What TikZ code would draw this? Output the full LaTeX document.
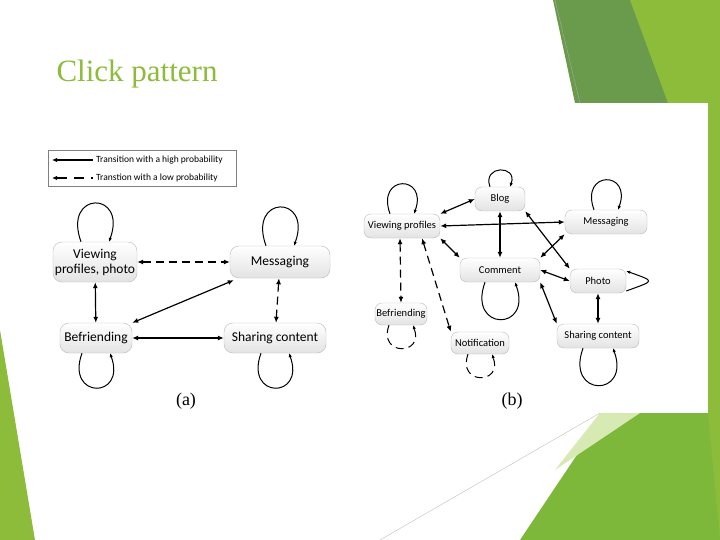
\documentclass[tikz,border=0pt]{standalone}
\usepackage{fontspec}
\setmainfont{Liberation Serif}
\newfontfamily\calfam{Carlito}
\usetikzlibrary{arrows.meta}
\definecolor{tgreen}{HTML}{8DBB3A}
\definecolor{dgreen}{HTML}{6A9A4C}
\definecolor{lgreen}{HTML}{7DB83A}
\definecolor{pale}{HTML}{D8EAB4}
\tikzset{
 st/.style={draw=gray!55,rounded corners=9pt,top color=white,bottom color=gray!22,font=\calfam,inner sep=0pt},
 sa/.style={st,font=\calfam\fontsize{13.5}{15}\selectfont},
 sb/.style={st,font=\calfam\fontsize{10.5}{11}\selectfont,rounded corners=7pt},
 ed/.style={line width=1.2pt,{Latex[length=6pt,width=5pt]}-{Latex[length=6pt,width=5pt]}},
 lp/.style={line width=1pt,-{Latex[length=4pt,width=3.5pt]}},
 dsh/.style={dash pattern=on 8pt off 5pt}
}
\begin{document}
\begin{tikzpicture}[x=1pt,y=-1pt]
\useasboundingbox (0,0) rectangle (720,540);
\fill[white] (0,0) rectangle (720,540);
% decorations
\fill[dgreen] (553,0) -- (645,0) -- (668,103) -- (575,103) -- cycle;
\fill[tgreen] (630,0) -- (720,0) -- (720,540) -- (690,540) -- (700,413) -- (708,103) -- (668,103) -- cycle;
\fill[lgreen] (520,540) -- (605,413) -- (708,413) -- (720,540) -- cycle;
\fill[pale] (555,470) -- (600,413) -- (640,413) -- cycle;
\fill[tgreen] (0,330) -- (0,540) -- (35,540) -- cycle;
\draw[gray!60,line width=0.3pt] (555,0) -- (580,103);
\draw[gray!60,line width=0.3pt] (380,540) -- (600,413);
\node[anchor=west,text=tgreen,font=\fontsize{31}{33}\selectfont] (title) at (53,74) {Click pattern};
\fill[white] (40,103) rectangle (708,413);
% legend
\node[draw=gray,line width=0.6pt,minimum width=188pt,minimum height=36pt,inner sep=0pt] (leg) at (142,168) {};
\coordinate (l1a) at (52,160); \coordinate (l1b) at (93,160);
\coordinate (l2a) at (52,178); \coordinate (l2b) at (93,178);
\draw[line width=1.2pt,{Latex[length=5pt,width=4.5pt]}-] (l1a) -- (l1b);
\draw[line width=1.2pt,dash pattern=on 10pt off 7pt,{Latex[length=5pt,width=4.5pt]}-] (l2a) -- (l2b);
\node[anchor=west,font=\calfam\fontsize{9.5}{10}\selectfont,inner sep=0pt] (t1) at (96,160) {Transition with a high probability};
\node[anchor=west,font=\calfam\fontsize{9.5}{10}\selectfont,inner sep=0pt] (t2) at (96,178) {Transtion with a low probability};
% (a)
\node[sa,minimum width=84pt,minimum height=40pt,align=center] (av) at (95,262) {Viewing\\profiles, photo};
\node[sa,minimum width=100pt,minimum height=32pt] (am) at (280,262) {Messaging};
\node[sa,minimum width=72pt,minimum height=30pt] (ab) at (96,338) {Befriending};
\node[sa,minimum width=102pt,minimum height=30pt] (as) at (275,338) {Sharing content};
\draw[ed,dsh] (av) -- (am);
\draw[ed] (av) -- (ab);
\coordinate (amx) at ([shift={(4,2)}]am.south west);
\draw[ed] (amx) -- (ab.north east);
\draw[ed] (ab) -- (as);
\draw[ed,dsh] (am) -- (as);
\draw[lp] ([xshift=-14]av.north) to[out=110,in=70,looseness=5] ([xshift=14]av.north);
\draw[lp] ([xshift=-14]am.north) to[out=110,in=70,looseness=5] ([xshift=14]am.north);
\draw[lp] ([xshift=-14]ab.south) to[out=-110,in=-70,looseness=4.5] ([xshift=14]ab.south);
\draw[lp] ([xshift=-14]as.south) to[out=-110,in=-70,looseness=4.5] ([xshift=14]as.south);
\node[font=\fontsize{18}{19}\selectfont] (la) at (186,401) {(a)};
% (b)
\node[sb,minimum width=50pt,minimum height=24pt] (bb) at (500,199) {Blog};
\node[sb,minimum width=76pt,minimum height=24pt] (bv) at (402,226) {Viewing profiles};
\node[sb,minimum width=82pt,minimum height=24pt] (bm) at (606,222) {Messaging};
\node[sb,minimum width=80pt,minimum height=24pt] (bc) at (500,270) {Comment};
\node[sb,minimum width=56pt,minimum height=24pt] (bp) at (598,281) {Photo};
\node[sb,minimum width=52pt,minimum height=22pt] (bf) at (401,314) {Befriending};
\node[sb,minimum width=58pt,minimum height=22pt] (bn) at (480,343) {Notification};
\node[sb,minimum width=82pt,minimum height=24pt] (bs) at (598,336) {Sharing content};
\draw[ed] (bv.north east) -- (bb.west);
\draw[ed] (bv.east) -- (bm.west);
\draw[ed] (bv.south east) -- (bc.north west);
\draw[ed,dsh] ([xshift=-2]bv.south) -- (bf.north);
\draw[ed,dsh] ([xshift=20]bv.south) -- (bn.north west);
\draw[ed] (bb.south) -- (bc.north);
\draw[ed] (bb.south east) -- (bp.north west);
\draw[ed] (bm.south west) -- (bc.north east);
\draw[ed] (bc.east) -- (bp.west);
\draw[ed] (bc.south east) -- (bs.north west);
\draw[ed] (bp.south) -- (bs.north);
\draw[lp] ([xshift=-12]bv.north) to[out=110,in=70,looseness=4.5] ([xshift=12]bv.north);
\draw[lp] ([xshift=-10]bb.north) to[out=110,in=70,looseness=3] ([xshift=10]bb.north);
\draw[lp] ([xshift=-12]bm.north) to[out=110,in=70,looseness=4.5] ([xshift=12]bm.north);
\draw[lp] ([xshift=-15]bc.south) to[out=-110,in=-70,looseness=4.5] ([xshift=15]bc.south);
\draw[lp] ([yshift=-10]bp.east) to[out=20,in=-20,looseness=4] ([yshift=10]bp.east);
\draw[lp] ([xshift=-15]bs.south) to[out=-110,in=-70,looseness=4.5] ([xshift=15]bs.south);
\draw[lp,dsh] ([xshift=-12]bf.south) to[out=-110,in=-70,looseness=3.5] ([xshift=12]bf.south);
\draw[lp,dsh] ([xshift=-12]bn.south) to[out=-110,in=-70,looseness=3.5] ([xshift=12]bn.south);
\node[font=\fontsize{18}{19}\selectfont] (lb) at (512,401) {(b)};
\end{tikzpicture}
\end{document}
